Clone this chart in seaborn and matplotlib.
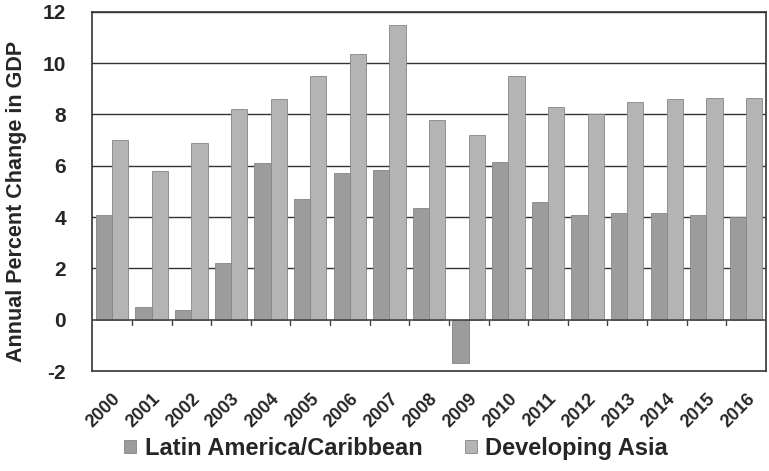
import matplotlib
matplotlib.use("Agg")
import matplotlib.pyplot as plt
import seaborn as sns
import pandas as pd
import numpy as np

years = [str(y) for y in range(2000, 2017)]
latin_america = [4.1, 0.5, 0.4, 2.2, 6.1, 4.7, 5.7, 5.85, 4.35, -1.7, 6.15, 4.6, 4.1, 4.15, 4.15, 4.1, 4.0]
developing_asia = [7.0, 5.8, 6.9, 8.2, 8.6, 9.5, 10.35, 11.5, 7.8, 7.2, 9.5, 8.3, 8.0, 8.5, 8.6, 8.65, 8.65]
series_names = ["Latin America/Caribbean", "Developing Asia"]
yticks = [-2, 0, 2, 4, 6, 8, 10, 12]

df = pd.DataFrame({
    "Year": years * 2,
    "Value": latin_america + developing_asia,
    "Region": [series_names[0]] * len(years) + [series_names[1]] * len(years),
})

sns.set_style("white")
plt.rcParams["font.family"] = ["Liberation Sans", "DejaVu Sans"]

fig = plt.figure(figsize=(7.69, 4.71), dpi=100)
ax = fig.add_axes([0.12, 0.212, 0.876, 0.763])

palette = {series_names[0]: "#9c9c9c", series_names[1]: "#b4b4b4"}
sns.barplot(data=df, x="Year", y="Value", hue="Region", palette=palette,
            width=0.82, ax=ax, edgecolor="#858585", linewidth=0.6,
            saturation=1, legend=True)

ax.set_ylim(-2, 12)
ax.set_yticks(yticks)
ax.set_yticklabels([str(t) for t in yticks], fontsize=15, fontweight="bold")
ax.set_xlim(-0.5, len(years) - 0.5)
ax.set_xticks(range(len(years)))
ax.set_xticklabels(years, rotation=45, ha="right", rotation_mode="anchor",
                   fontsize=13, fontweight="bold")
ax.tick_params(axis="x", length=0, pad=14)
ax.tick_params(axis="y", length=5, width=1, color="#333333", direction="out", pad=14)
ax.set_xlabel("")
ax.set_ylabel("Annual Percent Change in GDP", fontsize=15.5, fontweight="bold")
ax.yaxis.set_label_coords(-0.097, 0.471)

for t in [2, 4, 6, 8, 10, 12]:
    ax.axhline(t, color="#333333", linewidth=1.0, zorder=0)
ax.axhline(0, color="#444444", linewidth=1.2, zorder=3)
for b in np.arange(0.5, len(years) - 0.5, 1.0):
    ax.plot([b, b], [0, -0.22], color="#444444", linewidth=1.0, zorder=3, clip_on=False)

for s in ax.spines.values():
    s.set_visible(True)
    s.set_color("#333333")
    s.set_linewidth(1.2)

handles, labels = ax.get_legend_handles_labels()
ax.get_legend().remove()
fig.legend(handles, labels, loc="center", bbox_to_anchor=(0.515, 0.048),
           ncol=2, frameon=False, prop={"size": 17, "weight": "bold"},
           handlelength=0.5, handleheight=0.5, handletextpad=0.35, columnspacing=1.8)

fig.savefig("out.png", dpi=100)
